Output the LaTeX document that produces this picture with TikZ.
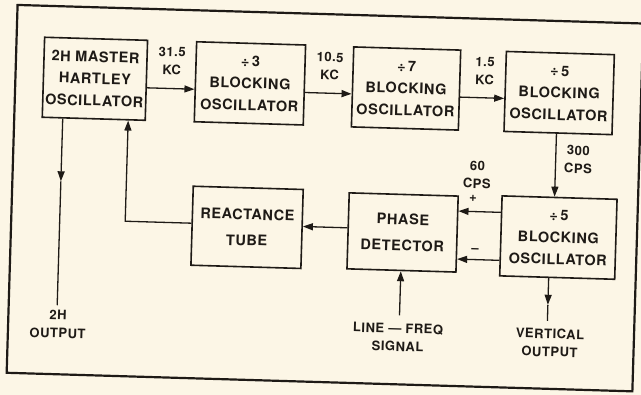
\documentclass[tikz,border=0pt]{standalone}
\usepackage{fontspec}
\setmainfont{TeX Gyre Heros}[LetterSpace=4]
\usetikzlibrary{arrows.meta}
\definecolor{paper}{RGB}{252,246,230}
\definecolor{ink}{RGB}{30,26,22}
\begin{document}
\begin{tikzpicture}[x=1pt,y=-1pt,
  blk/.style={draw=ink, line width=1.6pt, align=center, text=ink,
    font=\fontsize{14.5}{22}\selectfont\bfseries, inner sep=0pt, minimum height=80pt},
  lbl/.style={align=center, text=ink, font=\fontsize{13}{18}\selectfont\bfseries, inner sep=0pt},
  conn/.style={draw=ink, line width=1.3pt},
  tip/.style={-{Triangle[length=10pt,width=7pt]}}]
\fill[paper] (0,0) rectangle (641,395);
\useasboundingbox (0,0) rectangle (641,395);
\begin{scope}[rotate around={-1.7:(320,197)}, transform shape]
  % frame
  \draw[ink, line width=2.2pt] (12,14) rectangle (638,382);
  % blocks
  \node[blk, minimum width=103pt] (m) at (91.5,85.5) {2H MASTER\\HARTLEY\\OSCILLATOR};
  \node[blk, minimum width=109pt] (d3) at (246.6,85.5) {÷\,3\\BLOCKING\\OSCILLATOR};
  \node[blk, minimum width=107pt] (d7) at (402.8,86) {÷\,7\\BLOCKING\\OSCILLATOR};
  \node[blk, minimum width=108pt] (d5a) at (556,86) {÷\,5\\BLOCKING\\OSCILLATOR};
  \node[blk, minimum width=115pt] (d5b) at (559.5,230.5) {÷\,5\\BLOCKING\\OSCILLATOR};
  \node[blk, minimum width=109pt, minimum height=76pt] (pd) at (403.6,230) {PHASE\\[4pt]DETECTOR};
  \node[blk, minimum width=110pt, minimum height=79pt] (rt) at (248,229.5) {REACTANCE\\[4pt]TUBE};
  % labels
  \node[lbl] (l1) at (168,65.5) {31.5\\KC};
  \node[lbl] (l2) at (326,66) {10.5\\KC};
  \node[lbl] (l3) at (481,66) {1.5\\KC};
  \node[lbl] (l4) at (577,152) {300\\CPS};
  \node[lbl] (l5) at (476.4,170) {60\\CPS};
  \node[lbl] (lp) at (473,193.5) {+};
  \node[lbl] (lm) at (476.6,245.8) {–};
  \node[lbl] (o2) at (61.7,332) {2H\\OUTPUT};
  \node[lbl] (lf) at (402,335) {LINE — FREQ\\SIGNAL};
  \node[lbl] (vo) at (554,336) {VERTICAL\\OUTPUT};
  % helper coordinates
  \coordinate (toprow) at (0,93);
  \coordinate (plus) at (0,207);
  \coordinate (minus) at (0,255);
  \coordinate (fbrow) at (0,227);
  \coordinate (fbc) at (126,227);
  \coordinate (dn) at (554.5,0);
  \coordinate (o2tip) at (60.5,189);
  \coordinate (o2end) at (60.5,313);
  \coordinate (lfend) at (403,313);
  \coordinate (vtip) at (551,298);
  \coordinate (vend) at (551,314);
  % connectors
  \draw[conn,tip] (m.east |- toprow) -- (d3.west |- toprow);
  \draw[conn,tip] (d3.east |- toprow) -- (d7.west |- toprow);
  \draw[conn,tip] (d7.east |- toprow) -- (d5a.west |- toprow);
  \draw[conn,tip] (d5a.south -| dn) -- (d5b.north -| dn);
  \draw[conn,tip] (d5b.west |- plus) -- (pd.east |- plus);
  \draw[conn,tip] (d5b.west |- minus) -- (pd.east |- minus);
  \draw[conn,tip] (pd.west |- fbrow) -- (rt.east |- fbrow);
  \draw[conn,tip] (rt.west |- fbrow) -- (fbc) -- (m.south -| fbc);
  \draw[conn,tip] (m.south -| o2tip) -- (o2tip);
  \draw[conn] (o2tip) -- (o2end);
  \draw[conn,tip] (lfend) -- (pd.south -| lfend);
  \draw[conn,tip] (d5b.south -| vtip) -- (vtip);
  \draw[conn] (vtip) -- (vend);
\end{scope}
\end{tikzpicture}
\end{document}
